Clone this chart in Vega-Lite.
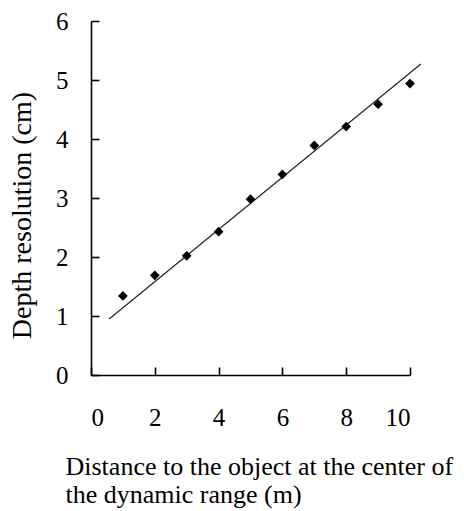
{
  "$schema": "https://vega.github.io/schema/vega-lite/v6.json",
  "width": 319,
  "height": 354,
  "autosize": "none",
  "padding": {"left": 91, "top": 21, "right": 54, "bottom": 136},
  "background": "white",
  "config": {
    "view": {"stroke": null},
    "font": "Liberation Serif",
    "axis": {
      "grid": false,
      "domainColor": "black",
      "domainWidth": 1.6,
      "tickColor": "black",
      "tickWidth": 1.6,
      "labelFont": "Liberation Serif",
      "labelFontSize": 25,
      "labelColor": "black",
      "titleFont": "Liberation Serif",
      "titleFontSize": 26,
      "titleFontWeight": "normal",
      "titleColor": "black"
    }
  },
  "datasets": {
    "pts": [
      {"d": 1, "r": 1.34},
      {"d": 2, "r": 1.69},
      {"d": 3, "r": 2.02},
      {"d": 4, "r": 2.43},
      {"d": 5, "r": 2.98},
      {"d": 6, "r": 3.40},
      {"d": 7, "r": 3.89},
      {"d": 8, "r": 4.21},
      {"d": 9, "r": 4.59},
      {"d": 10, "r": 4.94}
    ],
    "fit": [
      {"d": 0.57, "r": 0.95},
      {"d": 10.34, "r": 5.27}
    ]
  },
  "layer": [
    {
      "data": {"name": "fit"},
      "mark": {"type": "line", "color": "#222222", "strokeWidth": 1.2, "clip": false},
      "encoding": {
        "x": {
          "field": "d", "type": "quantitative",
          "scale": {"domain": [0, 10], "nice": false, "zero": false},
          "axis": {
            "values": [0, 2, 4, 6, 8, 10],
            "format": "d",
            "tickSize": -8,
            "labelPadding": 38,
            "labelAngle": 0,
            "title": ["Distance to the object at the center of", "the dynamic range (m)"],
            "titleAnchor": "start",
            "titleAlign": "left",
            "titleBaseline": "alphabetic",
            "titleX": -26,
            "titleY": 99,
            "titleLineHeight": 28
          }
        },
        "y": {
          "field": "r", "type": "quantitative",
          "scale": {"domain": [0, 6], "nice": false},
          "axis": {
            "values": [0, 1, 2, 3, 4, 5, 6],
            "format": "d",
            "tickSize": -8,
            "labelPadding": 31,
            "title": "Depth resolution (cm)",
            "titleFontSize": 28,
            "titleX": -69,
            "titleY": 194,
            "titleAnchor": "middle",
            "titleAlign": "center",
            "titleBaseline": "middle",
            "titleAngle": -90
          }
        }
      }
    },
    {
      "data": {"name": "pts"},
      "mark": {"type": "point", "shape": "diamond", "filled": true, "color": "black", "opacity": 1, "size": 95},
      "encoding": {
        "x": {"field": "d", "type": "quantitative"},
        "y": {"field": "r", "type": "quantitative"}
      }
    }
  ]
}
